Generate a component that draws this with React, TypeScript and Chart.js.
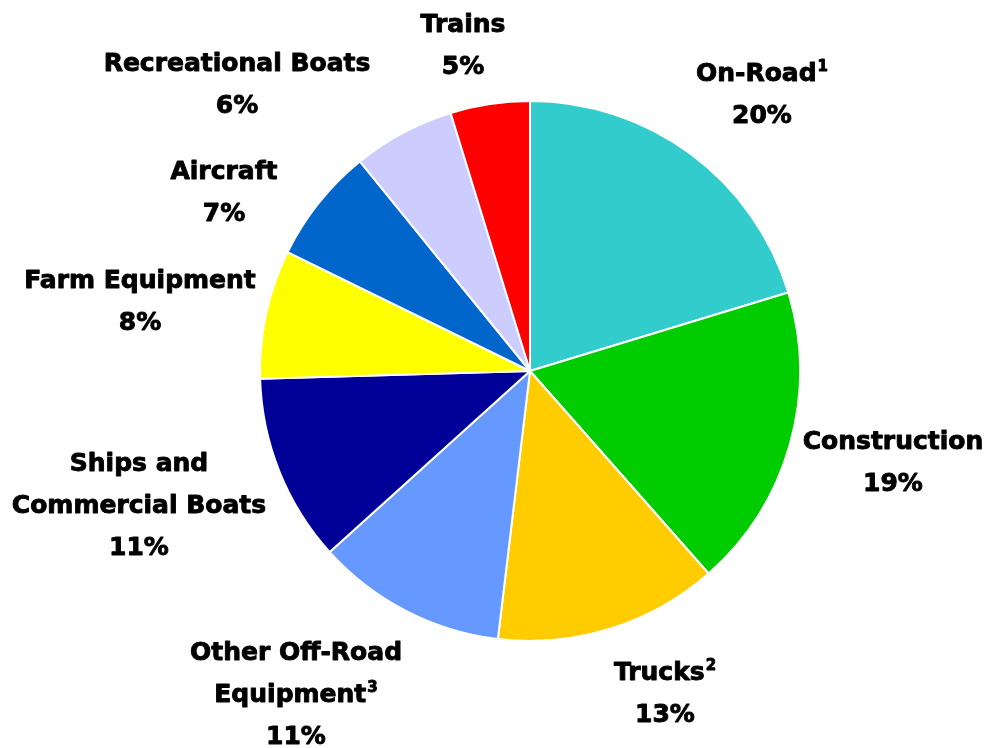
import React, { useEffect, useRef } from "react";
import { Chart, registerables } from "chart.js";

Chart.register(...registerables);

const categories = [
  "On-Road",
  "Construction",
  "Trucks",
  "Other Off-Road Equipment",
  "Ships and Commercial Boats",
  "Farm Equipment",
  "Aircraft",
  "Recreational Boats",
  "Trains",
];
// slice sizes
const shares = [20.3, 18.2, 13.4, 11.4, 11.25, 7.7, 6.9, 6.1, 4.75];
// percent labels as printed
const shareLabels = [20, 19, 13, 11, 11, 8, 7, 6, 5];
const colors = [
  "#33CCCC",
  "#00CC00",
  "#FFCC00",
  "#6699FF",
  "#000099",
  "#FFFF00",
  "#0066CC",
  "#CCCCFF",
  "#FF0000",
];
// label text lines; [text, superscript]
const labelLines: [string, string][][] = [
  [["On-Road", "1"]],
  [["Construction", ""]],
  [["Trucks", "2"]],
  [["Other Off-Road", ""], ["Equipment", "3"]],
  [["Ships and", ""], ["Commercial Boats", ""]],
  [["Farm Equipment", ""]],
  [["Aircraft", ""]],
  [["Recreational Boats", ""]],
  [["Trains", ""]],
];

// label block centres relative to pie centre, in units of the radius
const labelPlacement: [number, number][] = [
  [232 / 270, -278 / 270],
  [363 / 270, 90 / 270],
  [135 / 270, 321 / 270],
  [-234 / 270, 322 / 270],
  [-391 / 270, 133 / 270],
  [-390 / 270, -71 / 270],
  [-306 / 270, -180 / 270],
  [-293 / 270, -288 / 270],
  [-67 / 270, -327 / 270],
];

const FONT = '"DejaVu Sans", sans-serif';

const labelPlugin = {
  id: "pieLabels",
  afterDraw(chart: any) {
    const ctx = chart.ctx;
    const meta = chart.getDatasetMeta(0);
    const arc0 = meta.data[0];
    if (!arc0) return;
    const cx = arc0.x;
    const cy = arc0.y;
    const R = arc0.outerRadius;
    const fs = 25;
    const sfs = 15;
    const lh = 42;
    ctx.save();
    ctx.fillStyle = "#000";
    ctx.strokeStyle = "#000";
    ctx.lineWidth = 0.9;
    ctx.lineJoin = "round";
    ctx.textBaseline = "alphabetic";
    ctx.textAlign = "left";
    shareLabels.forEach((v: number, i: number) => {
      const lines: [string, string][] = [...labelLines[i], [`${v}%`, ""]];
      const [px, py] = labelPlacement[i];
      const bx = cx + px * R;
      const by = cy + py * R;
      const n = lines.length;
      lines.forEach(([t, sup], j) => {
        const lineCenter = by + (j - (n - 1) / 2) * lh;
        const base = lineCenter + fs * 0.365;
        ctx.font = `bold ${fs}px ${FONT}`;
        const w = ctx.measureText(t).width;
        let sw = 0;
        if (sup) {
          ctx.font = `bold ${sfs}px ${FONT}`;
          sw = ctx.measureText(sup).width + 1;
        }
        const x0 = bx - (w + sw) / 2;
        ctx.font = `bold ${fs}px ${FONT}`;
        ctx.fillText(t, x0, base);
        ctx.strokeText(t, x0, base);
        if (sup) {
          ctx.font = `bold ${sfs}px ${FONT}`;
          ctx.fillText(sup, x0 + w + 1, base - 10);
          ctx.strokeText(sup, x0 + w + 1, base - 10);
        }
      });
    });
    ctx.restore();
  },
};

export default function App() {
  const ref = useRef<HTMLCanvasElement | null>(null);
  useEffect(() => {
    if (!ref.current) return;
    const chart = new Chart(ref.current, {
      type: "pie",
      data: {
        labels: categories,
        datasets: [
          {
            data: shares,
            backgroundColor: colors,
            borderColor: "#FFFFFF",
            borderWidth: 2,
          },
        ],
      },
      options: {
        responsive: false,
        animation: false,
        layout: { padding: { left: 259, right: 186, top: 100, bottom: 106 } },
        plugins: {
          legend: { display: false },
          tooltip: { enabled: false },
        },
      },
      plugins: [labelPlugin],
    });
    return () => chart.destroy();
  }, []);
  return (
    <div style={{ position: "absolute", left: 0, top: 0, width: 987, height: 748, background: "#fff" }}>
      <canvas ref={ref} width={987} height={748} />
    </div>
  );
}
